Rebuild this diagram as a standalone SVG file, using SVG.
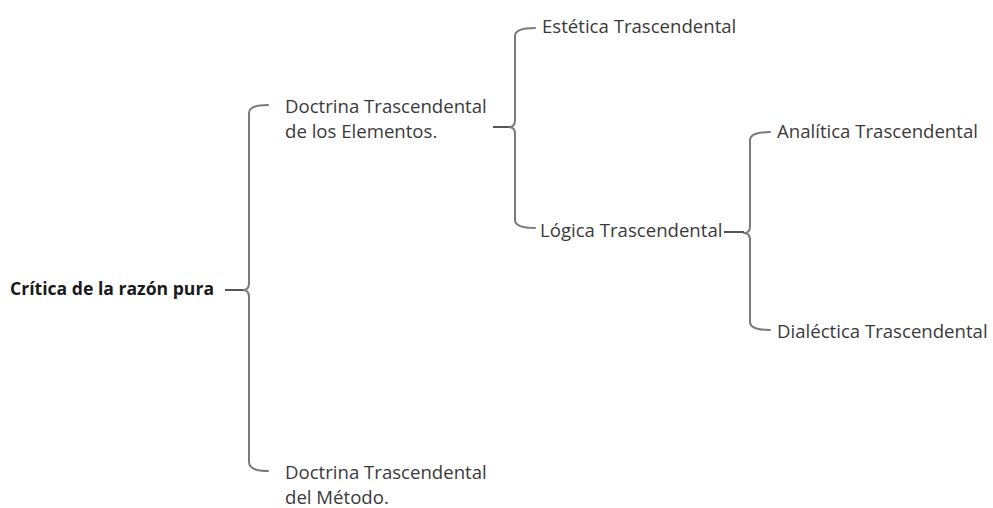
<svg xmlns="http://www.w3.org/2000/svg" width="993" height="508" viewBox="0 0 993 508">
<style>
.t{font-family:"Open Sans","Noto Sans","Liberation Sans",sans-serif;font-size:18.6px;fill:#3a3a3a}
.b{font-weight:bold;fill:#1a1a1a;font-size:17.6px}
.br{fill:none;stroke:#7a7a7a;stroke-width:2;stroke-linecap:round;stroke-linejoin:round}
.tk{fill:none;stroke:#555;stroke-width:2}
</style>
<rect width="993" height="508" fill="#fff"/>
<g id="connectors">
<path class="br" d="M268,105 Q249,105 249,113 L249,283 Q249,290 243,290 Q249,290 249,297 L249,462 Q249,471 268,471"/>
<path class="tk" d="M225,290 L243,290"/>
<path class="br" d="M535,28 Q515,28 515,36 L515,120 Q515,127 509,127 Q515,127 515,134 L515,220 Q515,228 535,228"/>
<path class="tk" d="M493,127 L509,127"/>
<path class="br" d="M770,132 Q750,132 750,140 L750,226 Q750,233 744,233 Q750,233 750,240 L750,322 Q750,330 770,330"/>
<path class="tk" d="M724,232 L744,232"/>
</g>
<g id="root"><text class="t b" x="10" y="295">Crítica de la razón pura</text></g>
<g id="doctrina-elementos"><text class="t" x="285" y="113">Doctrina Trascendental</text><text class="t" x="285" y="138">de los Elementos.</text></g>
<g id="doctrina-metodo"><text class="t" x="285" y="479">Doctrina Trascendental</text><text class="t" x="285" y="504">del Método.</text></g>
<g id="estetica"><text class="t" x="542" y="33">Estética Trascendental</text></g>
<g id="logica"><text class="t" x="540" y="237">Lógica Trascendental</text></g>
<g id="analitica"><text class="t" x="777" y="138">Analítica Trascendental</text></g>
<g id="dialectica"><text class="t" x="777" y="338">Dialéctica Trascendental</text></g>
</svg>
